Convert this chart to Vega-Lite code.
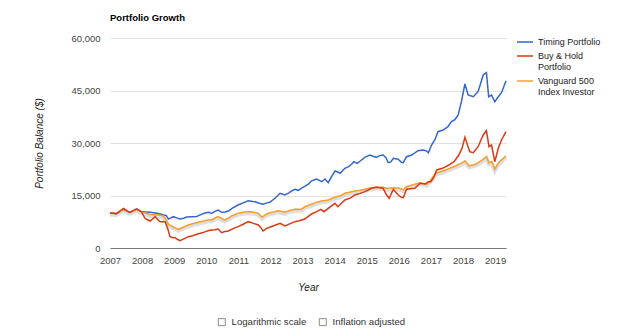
{
  "$schema": "https://vega.github.io/schema/vega-lite/v6.json",
  "width": 396,
  "height": 210,
  "autosize": "none",
  "padding": {"left": 110, "top": 38, "right": 134, "bottom": 88},
  "background": "white",
  "config": {
    "font": "Liberation Sans",
    "view": {"stroke": null},
    "axis": {"labelFont": "Liberation Sans", "titleFont": "Liberation Sans"},
    "legend": {"labelFont": "Liberation Sans"}
  },
  "title": {"text": "Portfolio Growth", "anchor": "start", "frame": "group", "fontSize": 9.5, "fontWeight": "bold", "color": "#000", "baseline": "alphabetic", "offset": 3},
  "encoding": {
    "x": {"field": "t", "type": "quantitative",
      "scale": {"domain": [2007, 2019.34], "nice": false, "zero": false},
      "axis": {"values": [2007, 2008, 2009, 2010, 2011, 2012, 2013, 2014, 2015, 2016, 2017, 2018, 2019], "format": "d",
        "title": "Year", "titleFontStyle": "italic", "titleFontWeight": "normal", "titleFontSize": 10, "titleColor": "#222", "titlePadding": 18,
        "labelFontSize": 9.5, "labelColor": "#444", "labelPadding": 7, "labelFlush": false, "labelOverlap": false,
        "ticks": false, "grid": false, "domainColor": "#777", "domainWidth": 1}},
    "y": {"field": "v", "type": "quantitative",
      "scale": {"domain": [0, 60000], "nice": false},
      "axis": {"values": [0, 15000, 30000, 45000, 60000], "format": ",d",
        "title": "Portfolio Balance ($)", "titleFontStyle": "italic", "titleFontWeight": "normal", "titleFontSize": 10, "titleColor": "#222", "titlePadding": 26,
        "labelFontSize": 9.5, "labelColor": "#444", "labelPadding": 10,
        "ticks": false, "domain": false, "grid": true, "gridColor": "#e2e2e2", "gridWidth": 1}}
  },
  "layer": [
    {
      "data": {"values": [{"opt": "Logarithmic scale"}, {"opt": "Inflation adjusted"}]},
      "transform": [{"filter": "false"}],
      "mark": {"type": "point", "filled": false, "color": "#8c8c8c", "strokeWidth": 1, "opacity": 1},
      "encoding": {
        "shape": {"field": "opt", "type": "nominal",
          "scale": {"domain": ["Logarithmic scale", "Inflation adjusted"], "range": ["square", "square"]},
          "legend": {"title": null, "orient": "none", "legendX": 107, "legendY": 279, "direction": "horizontal", "padding": 0,
            "symbolSize": 49, "symbolFillColor": "#f0f0f0", "symbolStrokeColor": "#8c8c8c", "symbolStrokeWidth": 1, "symbolOpacity": 1,
            "labelFontSize": 9.6, "labelColor": "#333", "labelOffset": 5, "columnPadding": 10}}
      }
    },
    {
      "data": {"name": "series"},
      "transform": [{"filter": "datum.s == 'Vanguard 500 Index Investor'"}],
      "mark": {"type": "line", "color": "#c8c8c8", "strokeWidth": 4, "opacity": 0.6, "yOffset": 1.5}
    },
    {
      "data": {"name": "series"},
      "mark": {"type": "line"},
      "encoding": {
        "color": {"field": "s", "type": "nominal",
          "scale": {"domain": ["Timing Portfolio", "Buy & Hold Portfolio", "Vanguard 500 Index Investor"], "range": ["#3366cc", "#dc3912", "#f6a02d"]},
          "legend": {"title": null, "orient": "none", "legendX": 406, "legendY": -5, "padding": 0, "symbolType": "stroke", "symbolSize": 256, "symbolStrokeWidth": 2,
            "labelFontSize": 9, "labelColor": "#222", "labelOffset": 4, "rowPadding": 0,
            "labelExpr": "datum.label == 'Buy & Hold Portfolio' ? ['Buy & Hold', 'Portfolio'] : datum.label == 'Vanguard 500 Index Investor' ? ['Vanguard 500', 'Index Investor'] : datum.label"}},
        "strokeWidth": {"field": "s", "type": "nominal",
          "scale": {"domain": ["Timing Portfolio", "Buy & Hold Portfolio", "Vanguard 500 Index Investor"], "range": [1.5, 1.5, 2.5]},
          "legend": null}
      }
    }
  ],
  "datasets": {
    "series": [
      {"s": "Timing Portfolio", "t": 2007.00, "v": 10000},
      {"s": "Timing Portfolio", "t": 2007.10, "v": 9900},
      {"s": "Timing Portfolio", "t": 2007.20, "v": 9800},
      {"s": "Timing Portfolio", "t": 2007.30, "v": 10400},
      {"s": "Timing Portfolio", "t": 2007.42, "v": 11200},
      {"s": "Timing Portfolio", "t": 2007.52, "v": 10700},
      {"s": "Timing Portfolio", "t": 2007.62, "v": 10200},
      {"s": "Timing Portfolio", "t": 2007.72, "v": 10600},
      {"s": "Timing Portfolio", "t": 2007.83, "v": 11100},
      {"s": "Timing Portfolio", "t": 2007.98, "v": 10400},
      {"s": "Timing Portfolio", "t": 2008.10, "v": 10300},
      {"s": "Timing Portfolio", "t": 2008.25, "v": 10200},
      {"s": "Timing Portfolio", "t": 2008.40, "v": 10000},
      {"s": "Timing Portfolio", "t": 2008.55, "v": 9800},
      {"s": "Timing Portfolio", "t": 2008.66, "v": 9430},
      {"s": "Timing Portfolio", "t": 2008.75, "v": 9300},
      {"s": "Timing Portfolio", "t": 2008.82, "v": 8300},
      {"s": "Timing Portfolio", "t": 2008.90, "v": 8600},
      {"s": "Timing Portfolio", "t": 2008.97, "v": 8950},
      {"s": "Timing Portfolio", "t": 2009.08, "v": 8600},
      {"s": "Timing Portfolio", "t": 2009.18, "v": 8300},
      {"s": "Timing Portfolio", "t": 2009.30, "v": 8500},
      {"s": "Timing Portfolio", "t": 2009.39, "v": 8860},
      {"s": "Timing Portfolio", "t": 2009.55, "v": 8950},
      {"s": "Timing Portfolio", "t": 2009.70, "v": 9000},
      {"s": "Timing Portfolio", "t": 2009.85, "v": 9600},
      {"s": "Timing Portfolio", "t": 2009.96, "v": 10000},
      {"s": "Timing Portfolio", "t": 2010.08, "v": 10200},
      {"s": "Timing Portfolio", "t": 2010.17, "v": 9900},
      {"s": "Timing Portfolio", "t": 2010.27, "v": 10480},
      {"s": "Timing Portfolio", "t": 2010.37, "v": 10860},
      {"s": "Timing Portfolio", "t": 2010.48, "v": 10200},
      {"s": "Timing Portfolio", "t": 2010.58, "v": 10300},
      {"s": "Timing Portfolio", "t": 2010.69, "v": 10570},
      {"s": "Timing Portfolio", "t": 2010.80, "v": 11300},
      {"s": "Timing Portfolio", "t": 2010.99, "v": 12290},
      {"s": "Timing Portfolio", "t": 2011.15, "v": 12900},
      {"s": "Timing Portfolio", "t": 2011.31, "v": 13500},
      {"s": "Timing Portfolio", "t": 2011.45, "v": 13300},
      {"s": "Timing Portfolio", "t": 2011.52, "v": 13230},
      {"s": "Timing Portfolio", "t": 2011.65, "v": 12800},
      {"s": "Timing Portfolio", "t": 2011.78, "v": 12480},
      {"s": "Timing Portfolio", "t": 2011.88, "v": 12900},
      {"s": "Timing Portfolio", "t": 2011.98, "v": 13050},
      {"s": "Timing Portfolio", "t": 2012.14, "v": 14200},
      {"s": "Timing Portfolio", "t": 2012.30, "v": 15630},
      {"s": "Timing Portfolio", "t": 2012.45, "v": 15140},
      {"s": "Timing Portfolio", "t": 2012.56, "v": 15700},
      {"s": "Timing Portfolio", "t": 2012.66, "v": 16290},
      {"s": "Timing Portfolio", "t": 2012.76, "v": 16770},
      {"s": "Timing Portfolio", "t": 2012.87, "v": 16480},
      {"s": "Timing Portfolio", "t": 2012.97, "v": 17100},
      {"s": "Timing Portfolio", "t": 2013.07, "v": 17600},
      {"s": "Timing Portfolio", "t": 2013.20, "v": 18400},
      {"s": "Timing Portfolio", "t": 2013.28, "v": 19200},
      {"s": "Timing Portfolio", "t": 2013.44, "v": 19710},
      {"s": "Timing Portfolio", "t": 2013.60, "v": 18940},
      {"s": "Timing Portfolio", "t": 2013.70, "v": 19710},
      {"s": "Timing Portfolio", "t": 2013.80, "v": 18660},
      {"s": "Timing Portfolio", "t": 2013.90, "v": 20300},
      {"s": "Timing Portfolio", "t": 2014.01, "v": 22000},
      {"s": "Timing Portfolio", "t": 2014.10, "v": 21700},
      {"s": "Timing Portfolio", "t": 2014.17, "v": 21340},
      {"s": "Timing Portfolio", "t": 2014.32, "v": 22770},
      {"s": "Timing Portfolio", "t": 2014.45, "v": 23300},
      {"s": "Timing Portfolio", "t": 2014.53, "v": 24000},
      {"s": "Timing Portfolio", "t": 2014.60, "v": 24660},
      {"s": "Timing Portfolio", "t": 2014.70, "v": 24200},
      {"s": "Timing Portfolio", "t": 2014.82, "v": 25000},
      {"s": "Timing Portfolio", "t": 2014.94, "v": 25910},
      {"s": "Timing Portfolio", "t": 2015.10, "v": 26570},
      {"s": "Timing Portfolio", "t": 2015.20, "v": 26200},
      {"s": "Timing Portfolio", "t": 2015.30, "v": 25910},
      {"s": "Timing Portfolio", "t": 2015.40, "v": 26400},
      {"s": "Timing Portfolio", "t": 2015.51, "v": 26570},
      {"s": "Timing Portfolio", "t": 2015.60, "v": 25800},
      {"s": "Timing Portfolio", "t": 2015.67, "v": 24370},
      {"s": "Timing Portfolio", "t": 2015.75, "v": 24600},
      {"s": "Timing Portfolio", "t": 2015.83, "v": 25630},
      {"s": "Timing Portfolio", "t": 2015.98, "v": 25340},
      {"s": "Timing Portfolio", "t": 2016.08, "v": 24500},
      {"s": "Timing Portfolio", "t": 2016.14, "v": 24400},
      {"s": "Timing Portfolio", "t": 2016.24, "v": 26090},
      {"s": "Timing Portfolio", "t": 2016.40, "v": 26570},
      {"s": "Timing Portfolio", "t": 2016.60, "v": 27800},
      {"s": "Timing Portfolio", "t": 2016.75, "v": 28000},
      {"s": "Timing Portfolio", "t": 2016.85, "v": 27800},
      {"s": "Timing Portfolio", "t": 2016.92, "v": 27230},
      {"s": "Timing Portfolio", "t": 2017.02, "v": 29430},
      {"s": "Timing Portfolio", "t": 2017.12, "v": 30860},
      {"s": "Timing Portfolio", "t": 2017.22, "v": 33230},
      {"s": "Timing Portfolio", "t": 2017.38, "v": 33710},
      {"s": "Timing Portfolio", "t": 2017.53, "v": 34660},
      {"s": "Timing Portfolio", "t": 2017.64, "v": 36090},
      {"s": "Timing Portfolio", "t": 2017.74, "v": 36570},
      {"s": "Timing Portfolio", "t": 2017.85, "v": 38000},
      {"s": "Timing Portfolio", "t": 2017.95, "v": 41800},
      {"s": "Timing Portfolio", "t": 2018.06, "v": 46860},
      {"s": "Timing Portfolio", "t": 2018.16, "v": 43710},
      {"s": "Timing Portfolio", "t": 2018.32, "v": 43230},
      {"s": "Timing Portfolio", "t": 2018.47, "v": 44660},
      {"s": "Timing Portfolio", "t": 2018.63, "v": 49430},
      {"s": "Timing Portfolio", "t": 2018.73, "v": 50090},
      {"s": "Timing Portfolio", "t": 2018.80, "v": 43230},
      {"s": "Timing Portfolio", "t": 2018.89, "v": 43710},
      {"s": "Timing Portfolio", "t": 2018.99, "v": 41800},
      {"s": "Timing Portfolio", "t": 2019.10, "v": 43230},
      {"s": "Timing Portfolio", "t": 2019.20, "v": 44370},
      {"s": "Timing Portfolio", "t": 2019.34, "v": 47800},

      {"s": "Vanguard 500 Index Investor", "t": 2007.00, "v": 10000},
      {"s": "Vanguard 500 Index Investor", "t": 2007.10, "v": 9900},
      {"s": "Vanguard 500 Index Investor", "t": 2007.20, "v": 9850},
      {"s": "Vanguard 500 Index Investor", "t": 2007.30, "v": 10400},
      {"s": "Vanguard 500 Index Investor", "t": 2007.42, "v": 11000},
      {"s": "Vanguard 500 Index Investor", "t": 2007.52, "v": 10600},
      {"s": "Vanguard 500 Index Investor", "t": 2007.62, "v": 10200},
      {"s": "Vanguard 500 Index Investor", "t": 2007.72, "v": 10500},
      {"s": "Vanguard 500 Index Investor", "t": 2007.83, "v": 11000},
      {"s": "Vanguard 500 Index Investor", "t": 2007.98, "v": 10400},
      {"s": "Vanguard 500 Index Investor", "t": 2008.10, "v": 10000},
      {"s": "Vanguard 500 Index Investor", "t": 2008.25, "v": 9600},
      {"s": "Vanguard 500 Index Investor", "t": 2008.40, "v": 9520},
      {"s": "Vanguard 500 Index Investor", "t": 2008.55, "v": 9400},
      {"s": "Vanguard 500 Index Investor", "t": 2008.66, "v": 9140},
      {"s": "Vanguard 500 Index Investor", "t": 2008.75, "v": 8000},
      {"s": "Vanguard 500 Index Investor", "t": 2008.82, "v": 6770},
      {"s": "Vanguard 500 Index Investor", "t": 2008.97, "v": 6000},
      {"s": "Vanguard 500 Index Investor", "t": 2009.13, "v": 5340},
      {"s": "Vanguard 500 Index Investor", "t": 2009.25, "v": 5800},
      {"s": "Vanguard 500 Index Investor", "t": 2009.44, "v": 6570},
      {"s": "Vanguard 500 Index Investor", "t": 2009.60, "v": 7000},
      {"s": "Vanguard 500 Index Investor", "t": 2009.75, "v": 7340},
      {"s": "Vanguard 500 Index Investor", "t": 2009.96, "v": 7800},
      {"s": "Vanguard 500 Index Investor", "t": 2010.08, "v": 8100},
      {"s": "Vanguard 500 Index Investor", "t": 2010.17, "v": 8000},
      {"s": "Vanguard 500 Index Investor", "t": 2010.27, "v": 8570},
      {"s": "Vanguard 500 Index Investor", "t": 2010.37, "v": 8950},
      {"s": "Vanguard 500 Index Investor", "t": 2010.48, "v": 8400},
      {"s": "Vanguard 500 Index Investor", "t": 2010.58, "v": 8000},
      {"s": "Vanguard 500 Index Investor", "t": 2010.69, "v": 8500},
      {"s": "Vanguard 500 Index Investor", "t": 2010.79, "v": 9140},
      {"s": "Vanguard 500 Index Investor", "t": 2010.99, "v": 9910},
      {"s": "Vanguard 500 Index Investor", "t": 2011.20, "v": 10300},
      {"s": "Vanguard 500 Index Investor", "t": 2011.41, "v": 10370},
      {"s": "Vanguard 500 Index Investor", "t": 2011.62, "v": 9910},
      {"s": "Vanguard 500 Index Investor", "t": 2011.74, "v": 8770},
      {"s": "Vanguard 500 Index Investor", "t": 2011.85, "v": 9500},
      {"s": "Vanguard 500 Index Investor", "t": 2011.93, "v": 9910},
      {"s": "Vanguard 500 Index Investor", "t": 2012.10, "v": 10300},
      {"s": "Vanguard 500 Index Investor", "t": 2012.24, "v": 10660},
      {"s": "Vanguard 500 Index Investor", "t": 2012.45, "v": 10200},
      {"s": "Vanguard 500 Index Investor", "t": 2012.60, "v": 10700},
      {"s": "Vanguard 500 Index Investor", "t": 2012.76, "v": 11060},
      {"s": "Vanguard 500 Index Investor", "t": 2012.97, "v": 11060},
      {"s": "Vanguard 500 Index Investor", "t": 2013.07, "v": 11800},
      {"s": "Vanguard 500 Index Investor", "t": 2013.28, "v": 12480},
      {"s": "Vanguard 500 Index Investor", "t": 2013.44, "v": 13100},
      {"s": "Vanguard 500 Index Investor", "t": 2013.60, "v": 13400},
      {"s": "Vanguard 500 Index Investor", "t": 2013.80, "v": 13700},
      {"s": "Vanguard 500 Index Investor", "t": 2014.01, "v": 14480},
      {"s": "Vanguard 500 Index Investor", "t": 2014.20, "v": 15000},
      {"s": "Vanguard 500 Index Investor", "t": 2014.32, "v": 15630},
      {"s": "Vanguard 500 Index Investor", "t": 2014.50, "v": 16000},
      {"s": "Vanguard 500 Index Investor", "t": 2014.63, "v": 16290},
      {"s": "Vanguard 500 Index Investor", "t": 2014.80, "v": 16500},
      {"s": "Vanguard 500 Index Investor", "t": 2014.94, "v": 16770},
      {"s": "Vanguard 500 Index Investor", "t": 2015.15, "v": 17200},
      {"s": "Vanguard 500 Index Investor", "t": 2015.30, "v": 17340},
      {"s": "Vanguard 500 Index Investor", "t": 2015.51, "v": 17340},
      {"s": "Vanguard 500 Index Investor", "t": 2015.65, "v": 17000},
      {"s": "Vanguard 500 Index Investor", "t": 2015.83, "v": 17240},
      {"s": "Vanguard 500 Index Investor", "t": 2016.03, "v": 17060},
      {"s": "Vanguard 500 Index Investor", "t": 2016.14, "v": 16600},
      {"s": "Vanguard 500 Index Investor", "t": 2016.24, "v": 17520},
      {"s": "Vanguard 500 Index Investor", "t": 2016.50, "v": 18200},
      {"s": "Vanguard 500 Index Investor", "t": 2016.66, "v": 18660},
      {"s": "Vanguard 500 Index Investor", "t": 2016.87, "v": 18200},
      {"s": "Vanguard 500 Index Investor", "t": 2017.00, "v": 19430},
      {"s": "Vanguard 500 Index Investor", "t": 2017.15, "v": 21340},
      {"s": "Vanguard 500 Index Investor", "t": 2017.46, "v": 22290},
      {"s": "Vanguard 500 Index Investor", "t": 2017.77, "v": 23430},
      {"s": "Vanguard 500 Index Investor", "t": 2017.98, "v": 24370},
      {"s": "Vanguard 500 Index Investor", "t": 2018.06, "v": 24860},
      {"s": "Vanguard 500 Index Investor", "t": 2018.20, "v": 23430},
      {"s": "Vanguard 500 Index Investor", "t": 2018.41, "v": 24000},
      {"s": "Vanguard 500 Index Investor", "t": 2018.60, "v": 25140},
      {"s": "Vanguard 500 Index Investor", "t": 2018.73, "v": 26090},
      {"s": "Vanguard 500 Index Investor", "t": 2018.81, "v": 24370},
      {"s": "Vanguard 500 Index Investor", "t": 2018.90, "v": 24660},
      {"s": "Vanguard 500 Index Investor", "t": 2018.99, "v": 22480},
      {"s": "Vanguard 500 Index Investor", "t": 2019.10, "v": 24200},
      {"s": "Vanguard 500 Index Investor", "t": 2019.20, "v": 25140},
      {"s": "Vanguard 500 Index Investor", "t": 2019.34, "v": 26290},

      {"s": "Buy & Hold Portfolio", "t": 2007.00, "v": 10000},
      {"s": "Buy & Hold Portfolio", "t": 2007.10, "v": 9900},
      {"s": "Buy & Hold Portfolio", "t": 2007.20, "v": 9800},
      {"s": "Buy & Hold Portfolio", "t": 2007.30, "v": 10500},
      {"s": "Buy & Hold Portfolio", "t": 2007.42, "v": 11300},
      {"s": "Buy & Hold Portfolio", "t": 2007.52, "v": 10600},
      {"s": "Buy & Hold Portfolio", "t": 2007.62, "v": 10200},
      {"s": "Buy & Hold Portfolio", "t": 2007.72, "v": 10700},
      {"s": "Buy & Hold Portfolio", "t": 2007.83, "v": 11200},
      {"s": "Buy & Hold Portfolio", "t": 2007.98, "v": 10300},
      {"s": "Buy & Hold Portfolio", "t": 2008.09, "v": 8480},
      {"s": "Buy & Hold Portfolio", "t": 2008.18, "v": 8000},
      {"s": "Buy & Hold Portfolio", "t": 2008.25, "v": 7710},
      {"s": "Buy & Hold Portfolio", "t": 2008.33, "v": 8300},
      {"s": "Buy & Hold Portfolio", "t": 2008.40, "v": 8950},
      {"s": "Buy & Hold Portfolio", "t": 2008.48, "v": 8200},
      {"s": "Buy & Hold Portfolio", "t": 2008.56, "v": 7520},
      {"s": "Buy & Hold Portfolio", "t": 2008.72, "v": 7520},
      {"s": "Buy & Hold Portfolio", "t": 2008.80, "v": 5500},
      {"s": "Buy & Hold Portfolio", "t": 2008.87, "v": 3230},
      {"s": "Buy & Hold Portfolio", "t": 2008.95, "v": 3000},
      {"s": "Buy & Hold Portfolio", "t": 2009.03, "v": 2950},
      {"s": "Buy & Hold Portfolio", "t": 2009.10, "v": 2500},
      {"s": "Buy & Hold Portfolio", "t": 2009.18, "v": 2090},
      {"s": "Buy & Hold Portfolio", "t": 2009.30, "v": 2600},
      {"s": "Buy & Hold Portfolio", "t": 2009.44, "v": 3230},
      {"s": "Buy & Hold Portfolio", "t": 2009.58, "v": 3500},
      {"s": "Buy & Hold Portfolio", "t": 2009.70, "v": 3910},
      {"s": "Buy & Hold Portfolio", "t": 2009.85, "v": 4300},
      {"s": "Buy & Hold Portfolio", "t": 2009.96, "v": 4600},
      {"s": "Buy & Hold Portfolio", "t": 2010.08, "v": 5000},
      {"s": "Buy & Hold Portfolio", "t": 2010.17, "v": 5140},
      {"s": "Buy & Hold Portfolio", "t": 2010.27, "v": 5200},
      {"s": "Buy & Hold Portfolio", "t": 2010.37, "v": 5430},
      {"s": "Buy & Hold Portfolio", "t": 2010.48, "v": 4380},
      {"s": "Buy & Hold Portfolio", "t": 2010.58, "v": 4700},
      {"s": "Buy & Hold Portfolio", "t": 2010.69, "v": 4860},
      {"s": "Buy & Hold Portfolio", "t": 2010.85, "v": 5600},
      {"s": "Buy & Hold Portfolio", "t": 2010.99, "v": 6090},
      {"s": "Buy & Hold Portfolio", "t": 2011.15, "v": 6800},
      {"s": "Buy & Hold Portfolio", "t": 2011.31, "v": 7520},
      {"s": "Buy & Hold Portfolio", "t": 2011.45, "v": 7100},
      {"s": "Buy & Hold Portfolio", "t": 2011.62, "v": 6570},
      {"s": "Buy & Hold Portfolio", "t": 2011.70, "v": 5800},
      {"s": "Buy & Hold Portfolio", "t": 2011.77, "v": 4860},
      {"s": "Buy & Hold Portfolio", "t": 2011.88, "v": 5600},
      {"s": "Buy & Hold Portfolio", "t": 2011.98, "v": 5910},
      {"s": "Buy & Hold Portfolio", "t": 2012.14, "v": 6500},
      {"s": "Buy & Hold Portfolio", "t": 2012.30, "v": 7060},
      {"s": "Buy & Hold Portfolio", "t": 2012.45, "v": 6290},
      {"s": "Buy & Hold Portfolio", "t": 2012.60, "v": 6900},
      {"s": "Buy & Hold Portfolio", "t": 2012.76, "v": 7520},
      {"s": "Buy & Hold Portfolio", "t": 2012.90, "v": 7800},
      {"s": "Buy & Hold Portfolio", "t": 2013.07, "v": 8290},
      {"s": "Buy & Hold Portfolio", "t": 2013.20, "v": 9200},
      {"s": "Buy & Hold Portfolio", "t": 2013.28, "v": 9710},
      {"s": "Buy & Hold Portfolio", "t": 2013.44, "v": 10370},
      {"s": "Buy & Hold Portfolio", "t": 2013.57, "v": 11060},
      {"s": "Buy & Hold Portfolio", "t": 2013.67, "v": 10370},
      {"s": "Buy & Hold Portfolio", "t": 2013.80, "v": 11300},
      {"s": "Buy & Hold Portfolio", "t": 2014.01, "v": 12770},
      {"s": "Buy & Hold Portfolio", "t": 2014.10, "v": 11800},
      {"s": "Buy & Hold Portfolio", "t": 2014.32, "v": 13710},
      {"s": "Buy & Hold Portfolio", "t": 2014.50, "v": 14300},
      {"s": "Buy & Hold Portfolio", "t": 2014.63, "v": 15140},
      {"s": "Buy & Hold Portfolio", "t": 2014.80, "v": 15600},
      {"s": "Buy & Hold Portfolio", "t": 2014.94, "v": 16090},
      {"s": "Buy & Hold Portfolio", "t": 2015.15, "v": 17060},
      {"s": "Buy & Hold Portfolio", "t": 2015.30, "v": 17340},
      {"s": "Buy & Hold Portfolio", "t": 2015.51, "v": 17060},
      {"s": "Buy & Hold Portfolio", "t": 2015.62, "v": 15140},
      {"s": "Buy & Hold Portfolio", "t": 2015.70, "v": 14200},
      {"s": "Buy & Hold Portfolio", "t": 2015.83, "v": 16770},
      {"s": "Buy & Hold Portfolio", "t": 2015.98, "v": 15140},
      {"s": "Buy & Hold Portfolio", "t": 2016.08, "v": 14480},
      {"s": "Buy & Hold Portfolio", "t": 2016.14, "v": 14370},
      {"s": "Buy & Hold Portfolio", "t": 2016.24, "v": 16770},
      {"s": "Buy & Hold Portfolio", "t": 2016.50, "v": 17060},
      {"s": "Buy & Hold Portfolio", "t": 2016.66, "v": 18490},
      {"s": "Buy & Hold Portfolio", "t": 2016.82, "v": 18300},
      {"s": "Buy & Hold Portfolio", "t": 2016.92, "v": 18940},
      {"s": "Buy & Hold Portfolio", "t": 2017.00, "v": 18940},
      {"s": "Buy & Hold Portfolio", "t": 2017.10, "v": 20370},
      {"s": "Buy & Hold Portfolio", "t": 2017.18, "v": 22290},
      {"s": "Buy & Hold Portfolio", "t": 2017.36, "v": 22770},
      {"s": "Buy & Hold Portfolio", "t": 2017.56, "v": 23710},
      {"s": "Buy & Hold Portfolio", "t": 2017.72, "v": 24660},
      {"s": "Buy & Hold Portfolio", "t": 2017.87, "v": 26570},
      {"s": "Buy & Hold Portfolio", "t": 2017.97, "v": 28480},
      {"s": "Buy & Hold Portfolio", "t": 2018.06, "v": 31630},
      {"s": "Buy & Hold Portfolio", "t": 2018.21, "v": 27510},
      {"s": "Buy & Hold Portfolio", "t": 2018.32, "v": 27230},
      {"s": "Buy & Hold Portfolio", "t": 2018.47, "v": 28940},
      {"s": "Buy & Hold Portfolio", "t": 2018.63, "v": 32290},
      {"s": "Buy & Hold Portfolio", "t": 2018.73, "v": 33520},
      {"s": "Buy & Hold Portfolio", "t": 2018.81, "v": 28940},
      {"s": "Buy & Hold Portfolio", "t": 2018.89, "v": 29430},
      {"s": "Buy & Hold Portfolio", "t": 2018.99, "v": 24660},
      {"s": "Buy & Hold Portfolio", "t": 2019.10, "v": 28480},
      {"s": "Buy & Hold Portfolio", "t": 2019.20, "v": 30860},
      {"s": "Buy & Hold Portfolio", "t": 2019.34, "v": 33230}
    ]
  }
}
